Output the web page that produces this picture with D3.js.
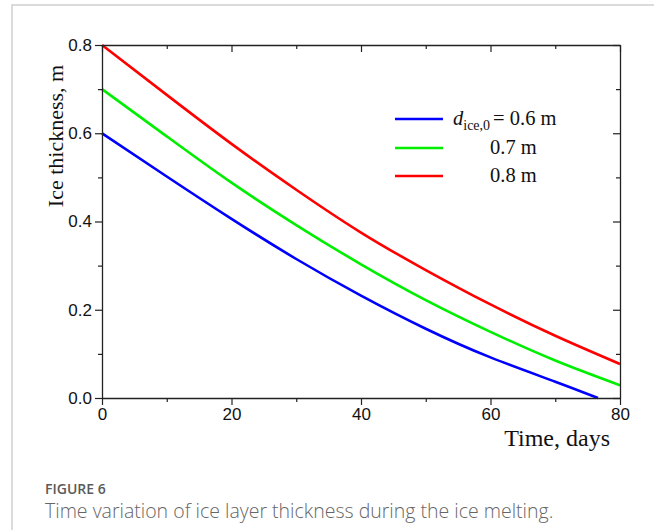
<!DOCTYPE html>
<meta charset="utf-8">
<script src="https://cdn.jsdelivr.net/npm/d3@7"></script>
<style>
  body { margin: 0; background: #fff; }
  svg { display: block; }
</style>
<body>
<script>
// values
var days = [0, 10, 20, 30, 40, 50, 60, 70, 80];
var thick06 = [0.600, 0.502, 0.406, 0.315, 0.232, 0.157, 0.092, 0.037];
var thick07 = [0.700, 0.593, 0.488, 0.392, 0.303, 0.222, 0.150, 0.085, 0.029];
var thick08 = [0.800, 0.687, 0.576, 0.472, 0.375, 0.290, 0.212, 0.141, 0.077];
var end06 = {t: 76.6, v: 0};
var legendLabels = ["= 0.6 m", "0.7 m", "0.8 m"];
var colors = ["#0000ff", "#00ee00", "#ff0000"];
var xMajor = [0, 20, 40, 60, 80], xMinor = [10, 30, 50, 70];
var yMajor = [0, 0.2, 0.4, 0.6, 0.8], yMinor = [0.1, 0.3, 0.5, 0.7];

var W = 654, H = 530;
var svg = d3.select("body").append("svg").attr("width", W).attr("height", H);

// card frame
svg.append("path").attr("d", "M12,530V5H654").attr("fill", "none")
  .attr("stroke", "#d0d0d0").attr("stroke-width", 1.5);

var x = d3.scaleLinear([0, 80], [102, 620]);
var y = d3.scaleLinear([0, 0.8], [398, 45]);

var series = [
  days.slice(0, thick06.length).map((t, i) => ({t, v: thick06[i]})).concat([end06]),
  days.map((t, i) => ({t, v: thick07[i]})),
  days.map((t, i) => ({t, v: thick08[i]}))
];

var line = d3.line().x(d => x(d.t)).y(d => y(d.v)).curve(d3.curveNatural);

svg.append("g").attr("fill", "none").attr("stroke-width", 2.6)
  .selectAll("path").data(series).join("path")
    .attr("stroke", (d, i) => colors[i])
    .attr("d", line);

function styleAxis(g) {
  g.select(".domain").attr("stroke", "#222").attr("stroke-width", 1.3);
  g.selectAll(".tick line").attr("stroke", "#222").attr("stroke-width", 1.2);
  g.selectAll(".tick text").attr("fill", "#111")
    .style("font-family", "Arial, 'Liberation Sans', sans-serif").style("font-size", "17px");
}

// bottom
svg.append("g").attr("transform", "translate(0,398)")
  .call(d3.axisBottom(x).tickValues(xMajor).tickSize(7).tickSizeOuter(0).tickPadding(3))
  .call(styleAxis);
svg.append("g").attr("transform", "translate(0,398)")
  .call(d3.axisBottom(x).tickValues(xMinor).tickSize(4).tickFormat(""))
  .call(styleAxis).call(g => g.select(".domain").remove());
// top
svg.append("g").attr("transform", "translate(0,45)")
  .call(d3.axisTop(x).tickValues(xMajor).tickSize(-7).tickSizeOuter(0).tickFormat(""))
  .call(styleAxis);
svg.append("g").attr("transform", "translate(0,45)")
  .call(d3.axisTop(x).tickValues(xMinor).tickSize(-4).tickFormat(""))
  .call(styleAxis).call(g => g.select(".domain").remove());
// left
svg.append("g").attr("transform", "translate(102,0)")
  .call(d3.axisLeft(y).tickValues(yMajor).tickSize(7).tickSizeOuter(0).tickPadding(3).tickFormat(d3.format(".1f")))
  .call(styleAxis);
svg.append("g").attr("transform", "translate(102,0)")
  .call(d3.axisLeft(y).tickValues(yMinor).tickSize(4).tickFormat(""))
  .call(styleAxis).call(g => g.select(".domain").remove());
// right
svg.append("g").attr("transform", "translate(620,0)")
  .call(d3.axisRight(y).tickValues(yMajor).tickSize(-7).tickSizeOuter(0).tickFormat(""))
  .call(styleAxis);
svg.append("g").attr("transform", "translate(620,0)")
  .call(d3.axisRight(y).tickValues(yMinor).tickSize(-4).tickFormat(""))
  .call(styleAxis).call(g => g.select(".domain").remove());

var serif = "'Liberation Serif', 'Times New Roman', serif";

// axis titles
svg.append("text").attr("transform", "translate(63,136) rotate(-90)")
  .attr("text-anchor", "middle").style("font-family", serif).style("font-size", "22px")
  .attr("fill", "#111").text("Ice thickness, m");
svg.append("text").attr("x", 610).attr("y", 446).attr("text-anchor", "end")
  .style("font-family", serif).style("font-size", "24px").attr("fill", "#111").text("Time, days");

// legend
var legY = [119, 148, 176];
var leg = svg.append("g");
leg.selectAll("line").data(colors).join("line")
  .attr("x1", 395).attr("x2", 443).attr("y1", (d, i) => legY[i]).attr("y2", (d, i) => legY[i])
  .attr("stroke", d => d).attr("stroke-width", 2.6);
var t0 = leg.append("text").attr("x", 453).attr("y", legY[0] + 6)
  .style("font-family", serif).style("font-size", "20.5px").attr("fill", "#111");
t0.append("tspan").style("font-style", "italic").text("d");
t0.append("tspan").attr("dy", 5).style("font-size", "14px").text("ice,0");
t0.append("tspan").attr("dy", -5).attr("dx", 3).text(legendLabels[0]);
leg.selectAll("text.rest").data(legendLabels.slice(1)).join("text").attr("class", "rest")
  .attr("x", 490).attr("y", (d, i) => legY[i + 1] + 6)
  .style("font-family", serif).style("font-size", "20.5px").attr("fill", "#111").text(d => d);

// caption
svg.append("text").attr("x", 45).attr("y", 494)
  .style("font-family", "'Open Sans', 'Noto Sans', sans-serif").style("font-size", "14px")
  .style("font-weight", 600).attr("fill", "#5a5a5a").text("FIGURE 6");
svg.append("text").attr("x", 45).attr("y", 518)
  .style("font-family", "'Open Sans', 'Noto Sans', sans-serif").style("font-size", "19.5px")
  .style("font-weight", 300).attr("fill", "#666").text("Time variation of ice layer thickness during the ice melting.");
</script>
</body>
